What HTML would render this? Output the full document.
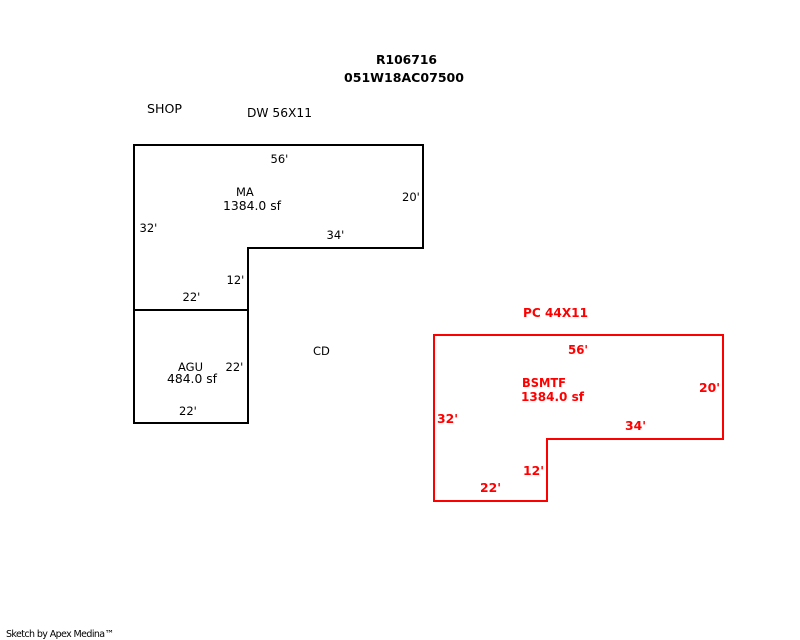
<!DOCTYPE html>
<html>
<head>
<meta charset="utf-8">
<style>
html,body{margin:0;padding:0;background:#fff;width:800px;height:640px;overflow:hidden}
svg{display:block}
text{font-family:"DejaVu Sans","Liberation Sans",sans-serif;font-size:12px;fill:#000}
.r text{fill:#f00;font-weight:bold}
.b{font-weight:bold}
.d{font-size:11.5px}
</style>
</head>
<body>
<svg width="800" height="640" viewBox="0 0 800 640" xmlns="http://www.w3.org/2000/svg">
<rect width="800" height="640" fill="#fff"/>
<g fill="none" stroke="#000" stroke-width="2" stroke-linejoin="miter">
<path d="M134 145H423V248H248V423H134Z"/>
<path d="M134 310H248"/>
</g>
<path d="M434 335H723V439H547V501H434Z" fill="none" stroke="#f00" stroke-width="2"/>
<g>
<text class="b" x="376" y="64" textLength="61" lengthAdjust="spacingAndGlyphs">R106716</text>
<text class="b" x="344" y="82" textLength="120" lengthAdjust="spacingAndGlyphs">051W18AC07500</text>
<text x="147" y="113" textLength="35" lengthAdjust="spacingAndGlyphs">SHOP</text>
<text x="247" y="117" textLength="65" lengthAdjust="spacingAndGlyphs">DW 56X11</text>
<text class="d" x="270.5" y="163">56'</text>
<text class="d" x="236" y="196">MA</text>
<text x="223" y="210" textLength="58" lengthAdjust="spacingAndGlyphs">1384.0 sf</text>
<text class="d" x="402" y="201">20'</text>
<text class="d" x="139.5" y="232">32'</text>
<text class="d" x="326.5" y="239">34'</text>
<text class="d" x="226.5" y="284">12'</text>
<text class="d" x="182.5" y="301">22'</text>
<text class="d" x="313" y="355">CD</text>
<text class="d" x="178" y="371">AGU</text>
<text x="167" y="383" textLength="50" lengthAdjust="spacingAndGlyphs">484.0 sf</text>
<text class="d" x="225.5" y="371">22'</text>
<text class="d" x="179" y="415">22'</text>
</g>
<g class="r">
<text x="523" y="317" textLength="65" lengthAdjust="spacingAndGlyphs">PC 44X11</text>
<text x="568" y="354" textLength="20" lengthAdjust="spacingAndGlyphs">56'</text>
<text x="522" y="387" textLength="44" lengthAdjust="spacingAndGlyphs">BSMTF</text>
<text x="521" y="401" textLength="63" lengthAdjust="spacingAndGlyphs">1384.0 sf</text>
<text x="699" y="392" textLength="21" lengthAdjust="spacingAndGlyphs">20'</text>
<text x="437" y="423" textLength="21" lengthAdjust="spacingAndGlyphs">32'</text>
<text x="625" y="430" textLength="21" lengthAdjust="spacingAndGlyphs">34'</text>
<text x="523" y="475" textLength="21" lengthAdjust="spacingAndGlyphs">12'</text>
<text x="480" y="492" textLength="21" lengthAdjust="spacingAndGlyphs">22'</text>
</g>
<text x="6" y="637" style="font-size:9.5px" textLength="108" lengthAdjust="spacing">Sketch by Apex Medina™</text>
</svg>
</body>
</html>
